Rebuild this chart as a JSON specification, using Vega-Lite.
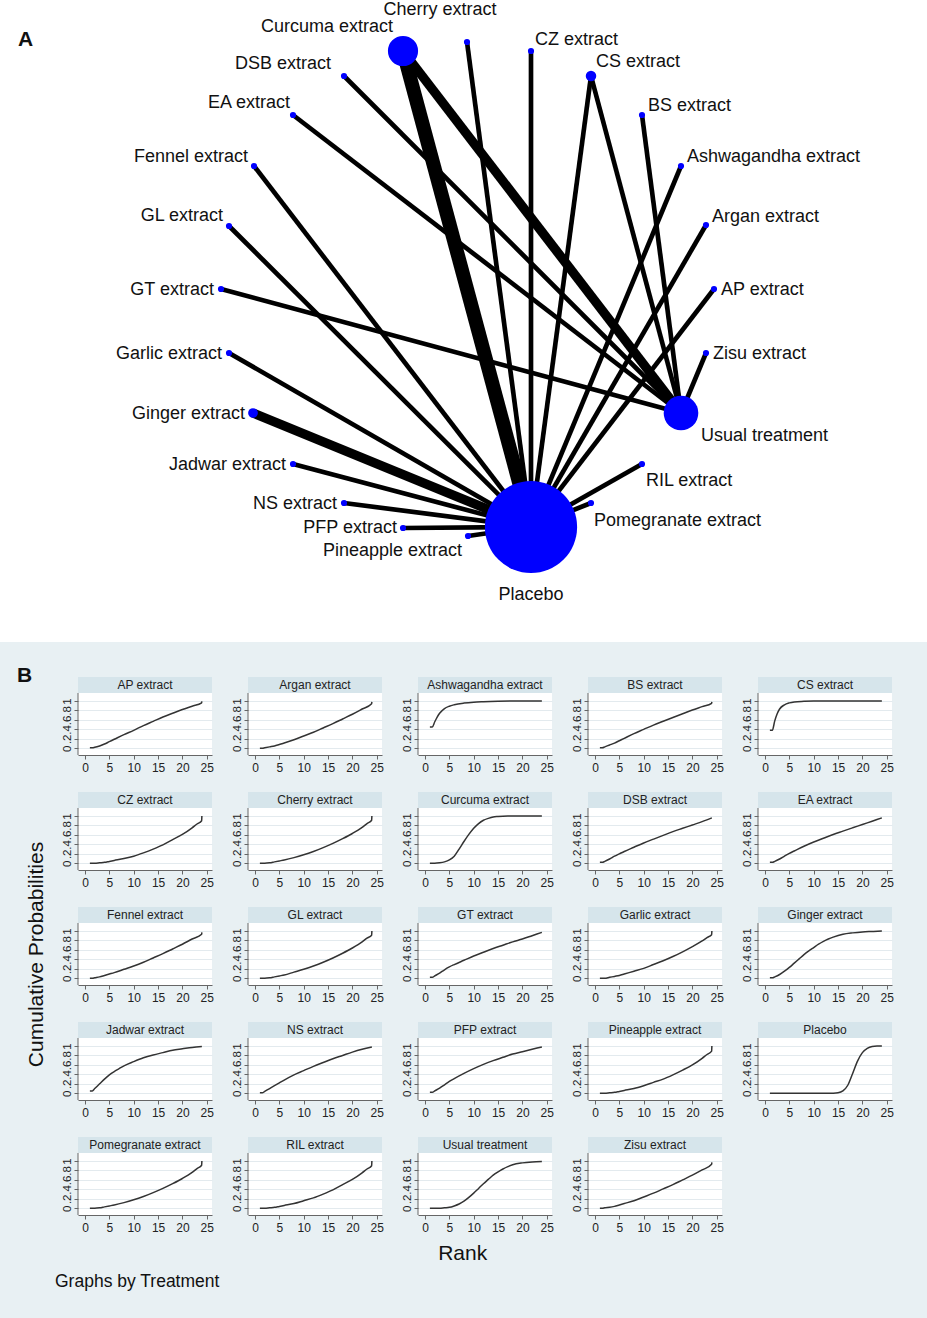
{
  "$schema": "https://vega.github.io/schema/vega-lite/v6.json",
  "background": "#e8f0f3",
  "padding": {"left": 0, "top": 0, "right": 0, "bottom": 27},
  "spacing": 0,
  "bounds": "full",
  "config": {
    "font": "Liberation Sans",
    "view": {"stroke": null},
    "title": {"fontWeight": "normal", "color": "#111"}
  },
  "title": {"text": "Graphs by Treatment", "orient": "bottom", "anchor": "start", "fontSize": 17.5, "dx": 55, "offset": 9},
  "datasets": {
    "nodes": [
      {"name": "Placebo", "x": 531, "y": 527, "wt": 850, "side": "center", "lx": 531, "ly": 595},
      {"name": "Usual treatment", "x": 681, "y": 413, "wt": 120, "side": "start", "lx": 701, "ly": 436},
      {"name": "Curcuma extract", "x": 403, "y": 51, "wt": 91, "side": "end", "lx": 393, "ly": 27},
      {"name": "Cherry extract", "x": 467, "y": 42, "wt": 3.8, "side": "center", "lx": 440, "ly": 10},
      {"name": "CZ extract", "x": 531, "y": 51, "wt": 3.8, "side": "start", "lx": 535, "ly": 40},
      {"name": "CS extract", "x": 591, "y": 76, "wt": 11, "side": "start", "lx": 596, "ly": 62},
      {"name": "BS extract", "x": 642, "y": 115, "wt": 3.8, "side": "start", "lx": 648, "ly": 106},
      {"name": "Ashwagandha extract", "x": 681, "y": 166, "wt": 3.8, "side": "start", "lx": 687, "ly": 157},
      {"name": "Argan extract", "x": 706, "y": 225, "wt": 3.8, "side": "start", "lx": 712, "ly": 217},
      {"name": "AP extract", "x": 714, "y": 289, "wt": 3.8, "side": "start", "lx": 721, "ly": 290},
      {"name": "Zisu extract", "x": 706, "y": 353, "wt": 3.8, "side": "start", "lx": 713, "ly": 354},
      {"name": "RIL extract", "x": 642, "y": 464, "wt": 3.8, "side": "start", "lx": 646, "ly": 481},
      {"name": "Pomegranate extract", "x": 591, "y": 503, "wt": 3.8, "side": "start", "lx": 594, "ly": 521},
      {"name": "Pineapple extract", "x": 468, "y": 536, "wt": 3.8, "side": "end", "lx": 462, "ly": 551},
      {"name": "PFP extract", "x": 403, "y": 528, "wt": 3.8, "side": "end", "lx": 397, "ly": 528},
      {"name": "NS extract", "x": 344, "y": 503, "wt": 3.8, "side": "end", "lx": 337, "ly": 504},
      {"name": "Jadwar extract", "x": 293, "y": 464, "wt": 3.8, "side": "end", "lx": 286, "ly": 465},
      {"name": "Ginger extract", "x": 253, "y": 413, "wt": 9.5, "side": "end", "lx": 245, "ly": 414},
      {"name": "Garlic extract", "x": 229, "y": 353, "wt": 3.8, "side": "end", "lx": 222, "ly": 354},
      {"name": "GT extract", "x": 221, "y": 289, "wt": 3.8, "side": "end", "lx": 214, "ly": 290},
      {"name": "GL extract", "x": 229, "y": 226, "wt": 3.8, "side": "end", "lx": 223, "ly": 216},
      {"name": "Fennel extract", "x": 254, "y": 166, "wt": 3.8, "side": "end", "lx": 248, "ly": 157},
      {"name": "EA extract", "x": 293, "y": 115, "wt": 3.8, "side": "end", "lx": 290, "ly": 103},
      {"name": "DSB extract", "x": 344, "y": 76, "wt": 3.8, "side": "end", "lx": 331, "ly": 64}
    ],
    "edges": [
      {"a": "Curcuma extract", "b": "Placebo", "n": 3, "ax": 403, "ay": 51, "bx": 531, "by": 527},
      {"a": "Curcuma extract", "b": "Usual treatment", "n": 2, "ax": 403, "ay": 51, "bx": 681, "by": 413},
      {"a": "Ginger extract", "b": "Placebo", "n": 2, "ax": 253, "ay": 413, "bx": 531, "by": 527},
      {"a": "Cherry extract", "b": "Placebo", "n": 1, "ax": 467, "ay": 42, "bx": 531, "by": 527},
      {"a": "CZ extract", "b": "Placebo", "n": 1, "ax": 531, "ay": 51, "bx": 531, "by": 527},
      {"a": "CS extract", "b": "Placebo", "n": 1, "ax": 591, "ay": 76, "bx": 531, "by": 527},
      {"a": "CS extract", "b": "Usual treatment", "n": 1, "ax": 591, "ay": 76, "bx": 681, "by": 413},
      {"a": "BS extract", "b": "Usual treatment", "n": 1, "ax": 642, "ay": 115, "bx": 681, "by": 413},
      {"a": "Ashwagandha extract", "b": "Placebo", "n": 1, "ax": 681, "ay": 166, "bx": 531, "by": 527},
      {"a": "Argan extract", "b": "Placebo", "n": 1, "ax": 706, "ay": 225, "bx": 531, "by": 527},
      {"a": "AP extract", "b": "Placebo", "n": 1, "ax": 714, "ay": 289, "bx": 531, "by": 527},
      {"a": "Zisu extract", "b": "Usual treatment", "n": 1, "ax": 706, "ay": 353, "bx": 681, "by": 413},
      {"a": "RIL extract", "b": "Placebo", "n": 1, "ax": 642, "ay": 464, "bx": 531, "by": 527},
      {"a": "Pomegranate extract", "b": "Placebo", "n": 1, "ax": 591, "ay": 503, "bx": 531, "by": 527},
      {"a": "Pineapple extract", "b": "Placebo", "n": 1, "ax": 468, "ay": 536, "bx": 531, "by": 527},
      {"a": "PFP extract", "b": "Placebo", "n": 1, "ax": 403, "ay": 528, "bx": 531, "by": 527},
      {"a": "NS extract", "b": "Placebo", "n": 1, "ax": 344, "ay": 503, "bx": 531, "by": 527},
      {"a": "Jadwar extract", "b": "Placebo", "n": 1, "ax": 293, "ay": 464, "bx": 531, "by": 527},
      {"a": "Garlic extract", "b": "Placebo", "n": 1, "ax": 229, "ay": 353, "bx": 531, "by": 527},
      {"a": "GT extract", "b": "Usual treatment", "n": 1, "ax": 221, "ay": 289, "bx": 681, "by": 413},
      {"a": "GL extract", "b": "Placebo", "n": 1, "ax": 229, "ay": 226, "bx": 531, "by": 527},
      {"a": "Fennel extract", "b": "Placebo", "n": 1, "ax": 254, "ay": 166, "bx": 531, "by": 527},
      {"a": "EA extract", "b": "Usual treatment", "n": 1, "ax": 293, "ay": 115, "bx": 681, "by": 413},
      {"a": "DSB extract", "b": "Usual treatment", "n": 1, "ax": 344, "ay": 76, "bx": 681, "by": 413}
    ],
    "curves": [
      {"t":"AP extract","r":1,"p":0.01},{"t":"AP extract","r":1.5,"p":0.01},{"t":"AP extract","r":2,"p":0.02},{"t":"AP extract","r":3,"p":0.05},{"t":"AP extract","r":4,"p":0.09},{"t":"AP extract","r":5,"p":0.14},{"t":"AP extract","r":6,"p":0.19},{"t":"AP extract","r":8,"p":0.29},{"t":"AP extract","r":10,"p":0.38},{"t":"AP extract","r":12,"p":0.48},{"t":"AP extract","r":14,"p":0.57},{"t":"AP extract","r":16,"p":0.66},{"t":"AP extract","r":18,"p":0.74},{"t":"AP extract","r":20,"p":0.82},{"t":"AP extract","r":22,"p":0.89},{"t":"AP extract","r":23.95,"p":0.96},{"t":"AP extract","r":24,"p":0.99},
      {"t":"Argan extract","r":1,"p":0},{"t":"Argan extract","r":1.5,"p":0},{"t":"Argan extract","r":2,"p":0.01},{"t":"Argan extract","r":3,"p":0.03},{"t":"Argan extract","r":4,"p":0.05},{"t":"Argan extract","r":5,"p":0.08},{"t":"Argan extract","r":6,"p":0.11},{"t":"Argan extract","r":8,"p":0.18},{"t":"Argan extract","r":10,"p":0.26},{"t":"Argan extract","r":12,"p":0.34},{"t":"Argan extract","r":14,"p":0.43},{"t":"Argan extract","r":16,"p":0.52},{"t":"Argan extract","r":18,"p":0.62},{"t":"Argan extract","r":20,"p":0.72},{"t":"Argan extract","r":22,"p":0.83},{"t":"Argan extract","r":23.95,"p":0.94},{"t":"Argan extract","r":24,"p":0.98},
      {"t":"Ashwagandha extract","r":1,"p":0.45},{"t":"Ashwagandha extract","r":1.5,"p":0.45},{"t":"Ashwagandha extract","r":2,"p":0.56},{"t":"Ashwagandha extract","r":2.5,"p":0.66},{"t":"Ashwagandha extract","r":3,"p":0.74},{"t":"Ashwagandha extract","r":4,"p":0.84},{"t":"Ashwagandha extract","r":5,"p":0.89},{"t":"Ashwagandha extract","r":6,"p":0.92},{"t":"Ashwagandha extract","r":8,"p":0.955},{"t":"Ashwagandha extract","r":10,"p":0.975},{"t":"Ashwagandha extract","r":12,"p":0.985},{"t":"Ashwagandha extract","r":15,"p":0.995},{"t":"Ashwagandha extract","r":18,"p":1},{"t":"Ashwagandha extract","r":24,"p":1},
      {"t":"BS extract","r":1,"p":0.01},{"t":"BS extract","r":1.5,"p":0.01},{"t":"BS extract","r":2,"p":0.03},{"t":"BS extract","r":3,"p":0.07},{"t":"BS extract","r":4,"p":0.11},{"t":"BS extract","r":5,"p":0.16},{"t":"BS extract","r":6,"p":0.21},{"t":"BS extract","r":8,"p":0.31},{"t":"BS extract","r":10,"p":0.4},{"t":"BS extract","r":12,"p":0.49},{"t":"BS extract","r":14,"p":0.57},{"t":"BS extract","r":16,"p":0.65},{"t":"BS extract","r":18,"p":0.73},{"t":"BS extract","r":20,"p":0.81},{"t":"BS extract","r":22,"p":0.88},{"t":"BS extract","r":23.95,"p":0.95},{"t":"BS extract","r":24,"p":0.98},
      {"t":"CS extract","r":1,"p":0.38},{"t":"CS extract","r":1.5,"p":0.38},{"t":"CS extract","r":2,"p":0.58},{"t":"CS extract","r":2.5,"p":0.73},{"t":"CS extract","r":3,"p":0.83},{"t":"CS extract","r":4,"p":0.92},{"t":"CS extract","r":5,"p":0.96},{"t":"CS extract","r":6,"p":0.98},{"t":"CS extract","r":8,"p":0.993},{"t":"CS extract","r":10,"p":1},{"t":"CS extract","r":24,"p":1},
      {"t":"CZ extract","r":1,"p":0},{"t":"CZ extract","r":2,"p":0},{"t":"CZ extract","r":3,"p":0.01},{"t":"CZ extract","r":4,"p":0.02},{"t":"CZ extract","r":5,"p":0.04},{"t":"CZ extract","r":6,"p":0.06},{"t":"CZ extract","r":8,"p":0.1},{"t":"CZ extract","r":10,"p":0.15},{"t":"CZ extract","r":12,"p":0.22},{"t":"CZ extract","r":14,"p":0.3},{"t":"CZ extract","r":16,"p":0.39},{"t":"CZ extract","r":18,"p":0.5},{"t":"CZ extract","r":20,"p":0.61},{"t":"CZ extract","r":22,"p":0.75},{"t":"CZ extract","r":23,"p":0.83},{"t":"CZ extract","r":23.95,"p":0.9},{"t":"CZ extract","r":24,"p":1},
      {"t":"Cherry extract","r":1,"p":0},{"t":"Cherry extract","r":2,"p":0},{"t":"Cherry extract","r":3,"p":0.01},{"t":"Cherry extract","r":4,"p":0.03},{"t":"Cherry extract","r":5,"p":0.05},{"t":"Cherry extract","r":6,"p":0.07},{"t":"Cherry extract","r":8,"p":0.12},{"t":"Cherry extract","r":10,"p":0.18},{"t":"Cherry extract","r":12,"p":0.25},{"t":"Cherry extract","r":14,"p":0.33},{"t":"Cherry extract","r":16,"p":0.42},{"t":"Cherry extract","r":18,"p":0.52},{"t":"Cherry extract","r":20,"p":0.63},{"t":"Cherry extract","r":22,"p":0.76},{"t":"Cherry extract","r":23,"p":0.84},{"t":"Cherry extract","r":23.95,"p":0.91},{"t":"Cherry extract","r":24,"p":1},
      {"t":"Curcuma extract","r":1,"p":0},{"t":"Curcuma extract","r":2,"p":0},{"t":"Curcuma extract","r":3,"p":0.01},{"t":"Curcuma extract","r":4,"p":0.03},{"t":"Curcuma extract","r":5,"p":0.07},{"t":"Curcuma extract","r":6,"p":0.15},{"t":"Curcuma extract","r":7,"p":0.3},{"t":"Curcuma extract","r":8,"p":0.46},{"t":"Curcuma extract","r":9,"p":0.61},{"t":"Curcuma extract","r":10,"p":0.74},{"t":"Curcuma extract","r":11,"p":0.84},{"t":"Curcuma extract","r":12,"p":0.91},{"t":"Curcuma extract","r":13,"p":0.95},{"t":"Curcuma extract","r":14,"p":0.98},{"t":"Curcuma extract","r":15,"p":0.99},{"t":"Curcuma extract","r":17,"p":1},{"t":"Curcuma extract","r":24,"p":1},
      {"t":"DSB extract","r":1,"p":0.02},{"t":"DSB extract","r":1.5,"p":0.02},{"t":"DSB extract","r":2,"p":0.04},{"t":"DSB extract","r":3,"p":0.09},{"t":"DSB extract","r":4,"p":0.15},{"t":"DSB extract","r":5,"p":0.2},{"t":"DSB extract","r":6,"p":0.25},{"t":"DSB extract","r":8,"p":0.34},{"t":"DSB extract","r":10,"p":0.43},{"t":"DSB extract","r":12,"p":0.51},{"t":"DSB extract","r":14,"p":0.59},{"t":"DSB extract","r":16,"p":0.67},{"t":"DSB extract","r":18,"p":0.74},{"t":"DSB extract","r":20,"p":0.81},{"t":"DSB extract","r":22,"p":0.88},{"t":"DSB extract","r":24,"p":0.96},
      {"t":"EA extract","r":1,"p":0.02},{"t":"EA extract","r":1.5,"p":0.02},{"t":"EA extract","r":2,"p":0.04},{"t":"EA extract","r":3,"p":0.09},{"t":"EA extract","r":4,"p":0.15},{"t":"EA extract","r":5,"p":0.21},{"t":"EA extract","r":6,"p":0.26},{"t":"EA extract","r":8,"p":0.36},{"t":"EA extract","r":10,"p":0.45},{"t":"EA extract","r":12,"p":0.53},{"t":"EA extract","r":14,"p":0.61},{"t":"EA extract","r":16,"p":0.68},{"t":"EA extract","r":18,"p":0.75},{"t":"EA extract","r":20,"p":0.82},{"t":"EA extract","r":22,"p":0.89},{"t":"EA extract","r":24,"p":0.96},
      {"t":"Fennel extract","r":1,"p":0},{"t":"Fennel extract","r":1.5,"p":0},{"t":"Fennel extract","r":2,"p":0.01},{"t":"Fennel extract","r":3,"p":0.03},{"t":"Fennel extract","r":4,"p":0.06},{"t":"Fennel extract","r":5,"p":0.09},{"t":"Fennel extract","r":6,"p":0.12},{"t":"Fennel extract","r":8,"p":0.19},{"t":"Fennel extract","r":10,"p":0.26},{"t":"Fennel extract","r":12,"p":0.34},{"t":"Fennel extract","r":14,"p":0.43},{"t":"Fennel extract","r":16,"p":0.52},{"t":"Fennel extract","r":18,"p":0.62},{"t":"Fennel extract","r":20,"p":0.72},{"t":"Fennel extract","r":22,"p":0.83},{"t":"Fennel extract","r":23.95,"p":0.93},{"t":"Fennel extract","r":24,"p":0.97},
      {"t":"GL extract","r":1,"p":0},{"t":"GL extract","r":2,"p":0},{"t":"GL extract","r":3,"p":0.01},{"t":"GL extract","r":4,"p":0.03},{"t":"GL extract","r":5,"p":0.05},{"t":"GL extract","r":6,"p":0.07},{"t":"GL extract","r":8,"p":0.13},{"t":"GL extract","r":10,"p":0.19},{"t":"GL extract","r":12,"p":0.26},{"t":"GL extract","r":14,"p":0.34},{"t":"GL extract","r":16,"p":0.43},{"t":"GL extract","r":18,"p":0.53},{"t":"GL extract","r":20,"p":0.64},{"t":"GL extract","r":22,"p":0.77},{"t":"GL extract","r":23,"p":0.85},{"t":"GL extract","r":23.95,"p":0.91},{"t":"GL extract","r":24,"p":1},
      {"t":"GT extract","r":1,"p":0.02},{"t":"GT extract","r":1.5,"p":0.02},{"t":"GT extract","r":2,"p":0.05},{"t":"GT extract","r":3,"p":0.11},{"t":"GT extract","r":4,"p":0.18},{"t":"GT extract","r":5,"p":0.24},{"t":"GT extract","r":6,"p":0.29},{"t":"GT extract","r":8,"p":0.38},{"t":"GT extract","r":10,"p":0.47},{"t":"GT extract","r":12,"p":0.55},{"t":"GT extract","r":14,"p":0.63},{"t":"GT extract","r":16,"p":0.7},{"t":"GT extract","r":18,"p":0.77},{"t":"GT extract","r":20,"p":0.83},{"t":"GT extract","r":22,"p":0.9},{"t":"GT extract","r":24,"p":0.97},
      {"t":"Garlic extract","r":1,"p":0},{"t":"Garlic extract","r":2,"p":0},{"t":"Garlic extract","r":3,"p":0.02},{"t":"Garlic extract","r":4,"p":0.04},{"t":"Garlic extract","r":5,"p":0.06},{"t":"Garlic extract","r":6,"p":0.09},{"t":"Garlic extract","r":8,"p":0.15},{"t":"Garlic extract","r":10,"p":0.21},{"t":"Garlic extract","r":12,"p":0.29},{"t":"Garlic extract","r":14,"p":0.37},{"t":"Garlic extract","r":16,"p":0.46},{"t":"Garlic extract","r":18,"p":0.56},{"t":"Garlic extract","r":20,"p":0.67},{"t":"Garlic extract","r":22,"p":0.79},{"t":"Garlic extract","r":23,"p":0.86},{"t":"Garlic extract","r":23.95,"p":0.92},{"t":"Garlic extract","r":24,"p":1},
      {"t":"Ginger extract","r":1,"p":0.01},{"t":"Ginger extract","r":1.5,"p":0.01},{"t":"Ginger extract","r":2,"p":0.03},{"t":"Ginger extract","r":3,"p":0.08},{"t":"Ginger extract","r":4,"p":0.15},{"t":"Ginger extract","r":5,"p":0.23},{"t":"Ginger extract","r":6,"p":0.32},{"t":"Ginger extract","r":7,"p":0.41},{"t":"Ginger extract","r":8,"p":0.5},{"t":"Ginger extract","r":9,"p":0.58},{"t":"Ginger extract","r":10,"p":0.65},{"t":"Ginger extract","r":11,"p":0.72},{"t":"Ginger extract","r":12,"p":0.78},{"t":"Ginger extract","r":13,"p":0.83},{"t":"Ginger extract","r":14,"p":0.87},{"t":"Ginger extract","r":16,"p":0.93},{"t":"Ginger extract","r":18,"p":0.96},{"t":"Ginger extract","r":20,"p":0.98},{"t":"Ginger extract","r":22,"p":0.99},{"t":"Ginger extract","r":24,"p":1},
      {"t":"Jadwar extract","r":1,"p":0.05},{"t":"Jadwar extract","r":1.5,"p":0.05},{"t":"Jadwar extract","r":2,"p":0.1},{"t":"Jadwar extract","r":3,"p":0.2},{"t":"Jadwar extract","r":4,"p":0.3},{"t":"Jadwar extract","r":5,"p":0.39},{"t":"Jadwar extract","r":6,"p":0.46},{"t":"Jadwar extract","r":7,"p":0.52},{"t":"Jadwar extract","r":8,"p":0.58},{"t":"Jadwar extract","r":10,"p":0.67},{"t":"Jadwar extract","r":12,"p":0.75},{"t":"Jadwar extract","r":14,"p":0.81},{"t":"Jadwar extract","r":16,"p":0.86},{"t":"Jadwar extract","r":18,"p":0.91},{"t":"Jadwar extract","r":20,"p":0.94},{"t":"Jadwar extract","r":22,"p":0.97},{"t":"Jadwar extract","r":24,"p":0.99},
      {"t":"NS extract","r":1,"p":0.01},{"t":"NS extract","r":1.5,"p":0.01},{"t":"NS extract","r":2,"p":0.04},{"t":"NS extract","r":3,"p":0.1},{"t":"NS extract","r":4,"p":0.16},{"t":"NS extract","r":5,"p":0.22},{"t":"NS extract","r":6,"p":0.28},{"t":"NS extract","r":8,"p":0.39},{"t":"NS extract","r":10,"p":0.48},{"t":"NS extract","r":12,"p":0.57},{"t":"NS extract","r":14,"p":0.65},{"t":"NS extract","r":16,"p":0.73},{"t":"NS extract","r":18,"p":0.8},{"t":"NS extract","r":20,"p":0.87},{"t":"NS extract","r":22,"p":0.93},{"t":"NS extract","r":24,"p":0.98},
      {"t":"PFP extract","r":1,"p":0.02},{"t":"PFP extract","r":1.5,"p":0.02},{"t":"PFP extract","r":2,"p":0.05},{"t":"PFP extract","r":3,"p":0.11},{"t":"PFP extract","r":4,"p":0.18},{"t":"PFP extract","r":5,"p":0.25},{"t":"PFP extract","r":6,"p":0.31},{"t":"PFP extract","r":8,"p":0.42},{"t":"PFP extract","r":10,"p":0.52},{"t":"PFP extract","r":12,"p":0.61},{"t":"PFP extract","r":14,"p":0.69},{"t":"PFP extract","r":16,"p":0.76},{"t":"PFP extract","r":18,"p":0.83},{"t":"PFP extract","r":20,"p":0.88},{"t":"PFP extract","r":22,"p":0.93},{"t":"PFP extract","r":24,"p":0.98},
      {"t":"Pineapple extract","r":1,"p":0},{"t":"Pineapple extract","r":2,"p":0},{"t":"Pineapple extract","r":3,"p":0.01},{"t":"Pineapple extract","r":4,"p":0.02},{"t":"Pineapple extract","r":5,"p":0.04},{"t":"Pineapple extract","r":6,"p":0.06},{"t":"Pineapple extract","r":8,"p":0.1},{"t":"Pineapple extract","r":10,"p":0.16},{"t":"Pineapple extract","r":12,"p":0.23},{"t":"Pineapple extract","r":14,"p":0.3},{"t":"Pineapple extract","r":16,"p":0.39},{"t":"Pineapple extract","r":18,"p":0.49},{"t":"Pineapple extract","r":20,"p":0.6},{"t":"Pineapple extract","r":22,"p":0.74},{"t":"Pineapple extract","r":23,"p":0.82},{"t":"Pineapple extract","r":23.95,"p":0.89},{"t":"Pineapple extract","r":24,"p":1},
      {"t":"Placebo","r":1,"p":0},{"t":"Placebo","r":12,"p":0},{"t":"Placebo","r":14,"p":0.003},{"t":"Placebo","r":15,"p":0.01},{"t":"Placebo","r":16,"p":0.05},{"t":"Placebo","r":17,"p":0.17},{"t":"Placebo","r":18,"p":0.42},{"t":"Placebo","r":19,"p":0.68},{"t":"Placebo","r":20,"p":0.86},{"t":"Placebo","r":21,"p":0.95},{"t":"Placebo","r":22,"p":0.99},{"t":"Placebo","r":23,"p":1},{"t":"Placebo","r":24,"p":1},
      {"t":"Pomegranate extract","r":1,"p":0},{"t":"Pomegranate extract","r":2,"p":0},{"t":"Pomegranate extract","r":3,"p":0.01},{"t":"Pomegranate extract","r":4,"p":0.03},{"t":"Pomegranate extract","r":5,"p":0.05},{"t":"Pomegranate extract","r":6,"p":0.07},{"t":"Pomegranate extract","r":8,"p":0.12},{"t":"Pomegranate extract","r":10,"p":0.18},{"t":"Pomegranate extract","r":12,"p":0.25},{"t":"Pomegranate extract","r":14,"p":0.33},{"t":"Pomegranate extract","r":16,"p":0.42},{"t":"Pomegranate extract","r":18,"p":0.52},{"t":"Pomegranate extract","r":20,"p":0.63},{"t":"Pomegranate extract","r":22,"p":0.76},{"t":"Pomegranate extract","r":23,"p":0.84},{"t":"Pomegranate extract","r":23.95,"p":0.91},{"t":"Pomegranate extract","r":24,"p":1},
      {"t":"RIL extract","r":1,"p":0},{"t":"RIL extract","r":2,"p":0},{"t":"RIL extract","r":3,"p":0.01},{"t":"RIL extract","r":4,"p":0.02},{"t":"RIL extract","r":5,"p":0.04},{"t":"RIL extract","r":6,"p":0.06},{"t":"RIL extract","r":8,"p":0.1},{"t":"RIL extract","r":10,"p":0.16},{"t":"RIL extract","r":12,"p":0.22},{"t":"RIL extract","r":14,"p":0.3},{"t":"RIL extract","r":16,"p":0.39},{"t":"RIL extract","r":18,"p":0.5},{"t":"RIL extract","r":20,"p":0.61},{"t":"RIL extract","r":22,"p":0.75},{"t":"RIL extract","r":23,"p":0.83},{"t":"RIL extract","r":23.95,"p":0.9},{"t":"RIL extract","r":24,"p":1},
      {"t":"Usual treatment","r":1,"p":0},{"t":"Usual treatment","r":3,"p":0},{"t":"Usual treatment","r":4,"p":0.01},{"t":"Usual treatment","r":5,"p":0.02},{"t":"Usual treatment","r":6,"p":0.05},{"t":"Usual treatment","r":7,"p":0.09},{"t":"Usual treatment","r":8,"p":0.15},{"t":"Usual treatment","r":9,"p":0.23},{"t":"Usual treatment","r":10,"p":0.32},{"t":"Usual treatment","r":11,"p":0.42},{"t":"Usual treatment","r":12,"p":0.52},{"t":"Usual treatment","r":13,"p":0.61},{"t":"Usual treatment","r":14,"p":0.7},{"t":"Usual treatment","r":15,"p":0.77},{"t":"Usual treatment","r":16,"p":0.83},{"t":"Usual treatment","r":17,"p":0.88},{"t":"Usual treatment","r":18,"p":0.92},{"t":"Usual treatment","r":20,"p":0.96},{"t":"Usual treatment","r":22,"p":0.98},{"t":"Usual treatment","r":24,"p":0.99},
      {"t":"Zisu extract","r":1,"p":0},{"t":"Zisu extract","r":1.5,"p":0},{"t":"Zisu extract","r":2,"p":0.01},{"t":"Zisu extract","r":3,"p":0.02},{"t":"Zisu extract","r":4,"p":0.04},{"t":"Zisu extract","r":5,"p":0.07},{"t":"Zisu extract","r":6,"p":0.1},{"t":"Zisu extract","r":8,"p":0.16},{"t":"Zisu extract","r":10,"p":0.24},{"t":"Zisu extract","r":12,"p":0.32},{"t":"Zisu extract","r":14,"p":0.41},{"t":"Zisu extract","r":16,"p":0.5},{"t":"Zisu extract","r":18,"p":0.6},{"t":"Zisu extract","r":20,"p":0.7},{"t":"Zisu extract","r":22,"p":0.81},{"t":"Zisu extract","r":23.95,"p":0.93},{"t":"Zisu extract","r":24,"p":0.97}
    ]
  },
  "vconcat": [
    {
      "width": 927,
      "height": 665,
      "view": {"stroke": null, "fill": null},
      "layer": [
        {
          "data": {"values": [{"region": "network"}]},
          "mark": {"type": "rect", "fill": "white"},
          "encoding": {
            "x": {"datum": 0, "type": "quantitative", "scale": {"domain": [0, 927], "nice": false, "zero": false}, "axis": null},
            "x2": {"datum": 927},
            "y": {"datum": 0, "type": "quantitative", "scale": {"domain": [0, 665], "nice": false, "zero": false, "reverse": true}, "axis": null},
            "y2": {"datum": 642}
          }
        },
        {
          "data": {"name": "edges"},
          "mark": {"type": "rule", "color": "black", "strokeCap": "butt"},
          "encoding": {
            "x": {"field": "ax", "type": "quantitative"},
            "y": {"field": "ay", "type": "quantitative"},
            "x2": {"field": "bx"},
            "y2": {"field": "by"},
            "strokeWidth": {"field": "n", "type": "quantitative", "scale": {"domain": [0, 3], "range": [0, 14]}, "legend": null}
          }
        },
        {
          "data": {"name": "nodes"},
          "mark": {"type": "circle", "color": "#0000ff", "opacity": 1},
          "encoding": {
            "x": {"field": "x", "type": "quantitative"},
            "y": {"field": "y", "type": "quantitative"},
            "size": {"field": "wt", "type": "quantitative", "scale": {"type": "linear", "domain": [0, 1000], "range": [0, 10000]}, "legend": null}
          }
        },
        {
          "data": {"name": "nodes"},
          "transform": [{"filter": {"field": "side", "equal": "start"}}],
          "mark": {"type": "text", "align": "left", "baseline": "middle", "fontSize": 18, "color": "#111"},
          "encoding": {
            "x": {"field": "lx", "type": "quantitative"},
            "y": {"field": "ly", "type": "quantitative"},
            "text": {"field": "name"}
          }
        },
        {
          "data": {"name": "nodes"},
          "transform": [{"filter": {"field": "side", "equal": "end"}}],
          "mark": {"type": "text", "align": "right", "baseline": "middle", "fontSize": 18, "color": "#111"},
          "encoding": {
            "x": {"field": "lx", "type": "quantitative"},
            "y": {"field": "ly", "type": "quantitative"},
            "text": {"field": "name"}
          }
        },
        {
          "data": {"name": "nodes"},
          "transform": [{"filter": {"field": "side", "equal": "center"}}],
          "mark": {"type": "text", "align": "center", "baseline": "middle", "fontSize": 18, "color": "#111"},
          "encoding": {
            "x": {"field": "lx", "type": "quantitative"},
            "y": {"field": "ly", "type": "quantitative"},
            "text": {"field": "name"}
          }
        },
        {
          "data": {"values": [{"panel": "A"}]},
          "mark": {"type": "text", "align": "left", "baseline": "middle", "fontSize": 21, "fontWeight": "bold", "color": "#111"},
          "encoding": {
            "x": {"datum": 18, "type": "quantitative"},
            "y": {"datum": 40, "type": "quantitative"},
            "text": {"field": "panel"}
          }
        }
      ]
    },
    {
      "title": {"text": "B", "orient": "top", "anchor": "start", "fontSize": 21, "fontWeight": "bold", "color": "#111", "offset": 0, "dx": 17, "dy": 10},
      "vconcat": [
        {
          "spacing": 24,
          "title": {"text": "Rank", "orient": "bottom", "anchor": "middle", "fontSize": 21, "offset": 10, "dx": 16},
          "hconcat": [
            {
              "width": 1,
              "height": 1,
              "data": {"values": [{"spacer": 1}]},
              "mark": {"type": "point", "size": 0, "opacity": 0},
              "view": {"stroke": null, "fill": null}
            },
            {
              "data": {"name": "curves"},
              "facet": {
                "field": "t",
                "type": "nominal",
                "sort": ["AP extract", "Argan extract", "Ashwagandha extract", "BS extract", "CS extract", "CZ extract", "Cherry extract", "Curcuma extract", "DSB extract", "EA extract", "Fennel extract", "GL extract", "GT extract", "Garlic extract", "Ginger extract", "Jadwar extract", "NS extract", "PFP extract", "Pineapple extract", "Placebo", "Pomegranate extract", "RIL extract", "Usual treatment", "Zisu extract"],
                "header": {"title": null, "labelExpr": "''", "labelFontSize": 1, "labelPadding": 0, "labelColor": "transparent"}
              },
              "columns": 5,
              "spacing": {"row": 37, "column": 36},
              "bounds": "flush",
              "title": {"text": "Cumulative Probabilities", "orient": "left", "anchor": "middle", "fontSize": 21, "offset": 14},
              "resolve": {"axis": {"x": "independent", "y": "independent"}},
              "spec": {
                "width": 134,
                "height": 78,
                "view": {"fill": "white", "stroke": null},
                "layer": [
                  {
                    "mark": {"type": "line", "color": "#333", "strokeWidth": 1.5, "interpolate": "monotone"},
                    "encoding": {
                      "x": {
                        "field": "r", "type": "quantitative",
                        "scale": {"domain": [-1.44, 26.08], "nice": false, "zero": false},
                        "axis": {"values": [0, 5, 10, 15, 20, 25], "title": null, "grid": false, "domainColor": "#666", "tickColor": "#666", "tickSize": 4, "labelFontSize": 12, "labelColor": "#222", "labelPadding": 3, "labelFlush": false, "labelOverlap": false}
                      },
                      "y": {
                        "field": "p", "type": "quantitative",
                        "scale": {"domain": [-0.142, 1.507], "nice": false, "zero": false},
                        "axis": {"values": [0, 0.2, 0.4, 0.6, 0.8, 1], "title": null, "grid": true, "gridColor": "#e3eaee", "domain": false, "tickColor": "#666", "tickSize": 4, "labelFontSize": 11.5, "labelColor": "#222", "labelAngle": -90, "labelAlign": "center", "labelBaseline": "bottom", "labelPadding": 2, "labelOverlap": false, "labelFlush": false, "labelExpr": "datum.value == 0 ? '0' : datum.value == 1 ? '1' : replace(format(datum.value, '.1f'), '0.', '.')"}
                      }
                    }
                  },
                  {
                    "transform": [{"filter": "datum.r == 1"}],
                    "mark": {"type": "rect", "fill": "#d6e5eb"},
                    "encoding": {
                      "x": {"datum": -1.44, "type": "quantitative",
                        "axis": {"values": [0, 5, 10, 15, 20, 25], "title": null, "grid": false, "domainColor": "#666", "tickColor": "#666", "tickSize": 4, "labelFontSize": 12, "labelColor": "#222", "labelPadding": 3, "labelFlush": false, "labelOverlap": false}},
                      "x2": {"datum": 26.08},
                      "y": {"datum": 1.169, "type": "quantitative",
                        "axis": {"values": [0, 0.2, 0.4, 0.6, 0.8, 1], "title": null, "grid": true, "gridColor": "#e3eaee", "domain": false, "tickColor": "#666", "tickSize": 4, "labelFontSize": 11.5, "labelColor": "#222", "labelAngle": -90, "labelAlign": "center", "labelBaseline": "bottom", "labelPadding": 2, "labelOverlap": false, "labelFlush": false, "labelExpr": "datum.value == 0 ? '0' : datum.value == 1 ? '1' : replace(format(datum.value, '.1f'), '0.', '.')"}},
                      "y2": {"datum": 1.507}
                    }
                  },
                  {
                    "transform": [{"filter": "datum.r == 1"}],
                    "mark": {"type": "text", "fontSize": 12, "color": "#222", "align": "center", "baseline": "middle"},
                    "encoding": {
                      "x": {"datum": 12.32, "type": "quantitative",
                        "axis": {"values": [0, 5, 10, 15, 20, 25], "title": null, "grid": false, "domainColor": "#666", "tickColor": "#666", "tickSize": 4, "labelFontSize": 12, "labelColor": "#222", "labelPadding": 3, "labelFlush": false, "labelOverlap": false}},
                      "y": {"datum": 1.338, "type": "quantitative",
                        "axis": {"values": [0, 0.2, 0.4, 0.6, 0.8, 1], "title": null, "grid": true, "gridColor": "#e3eaee", "domain": false, "tickColor": "#666", "tickSize": 4, "labelFontSize": 11.5, "labelColor": "#222", "labelAngle": -90, "labelAlign": "center", "labelBaseline": "bottom", "labelPadding": 2, "labelOverlap": false, "labelFlush": false, "labelExpr": "datum.value == 0 ? '0' : datum.value == 1 ? '1' : replace(format(datum.value, '.1f'), '0.', '.')"}},
                      "text": {"field": "t"}
                    }
                  },
                  {
                    "transform": [{"filter": "datum.r == 1"}],
                    "mark": {"type": "rule", "color": "#666", "strokeWidth": 1},
                    "encoding": {
                      "x": {"datum": -1.44, "type": "quantitative",
                        "axis": {"values": [0, 5, 10, 15, 20, 25], "title": null, "grid": false, "domainColor": "#666", "tickColor": "#666", "tickSize": 4, "labelFontSize": 12, "labelColor": "#222", "labelPadding": 3, "labelFlush": false, "labelOverlap": false}},
                      "y": {"datum": -0.142, "type": "quantitative",
                        "axis": {"values": [0, 0.2, 0.4, 0.6, 0.8, 1], "title": null, "grid": true, "gridColor": "#e3eaee", "domain": false, "tickColor": "#666", "tickSize": 4, "labelFontSize": 11.5, "labelColor": "#222", "labelAngle": -90, "labelAlign": "center", "labelBaseline": "bottom", "labelPadding": 2, "labelOverlap": false, "labelFlush": false, "labelExpr": "datum.value == 0 ? '0' : datum.value == 1 ? '1' : replace(format(datum.value, '.1f'), '0.', '.')"}},
                      "y2": {"datum": 1.169}
                    }
                  }
                ]
              }
            }
          ]
        }
      ]
    }
  ]
}
